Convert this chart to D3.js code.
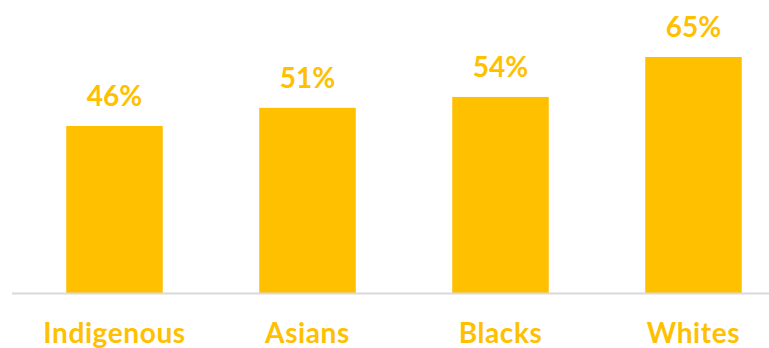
<!DOCTYPE html>
<html>
<head>
<meta charset="utf-8">
<script src="https://cdn.jsdelivr.net/npm/d3@7"></script>
<style>
  html, body { margin: 0; padding: 0; background: #fff; overflow: hidden; }
  svg { display: block; }
  text { font-family: Lato, "Open Sans", sans-serif; font-weight: 700; fill: #FFC000; }
</style>
</head>
<body>
<svg id="chart" width="769" height="348"></svg>
<script>
const categories = ["Indigenous", "Asians", "Blacks", "Whites"];
const values = [46, 51, 54, 65];

const svg = d3.select("#chart");
const gold = "#FFC000";

const x = d3.scaleBand()
  .domain(categories)
  .range([18, 790])
  .paddingInner(0.5)
  .paddingOuter(0.25);

const y = d3.scaleLinear()
  .domain([0, 65])
  .range([293, 57]);

const data = categories.map((c, i) => ({ cat: c, val: values[i] }));

// bars
svg.append("g").selectAll("rect")
  .data(data)
  .join("rect")
  .attr("x", d => x(d.cat))
  .attr("y", d => y(d.val))
  .attr("width", x.bandwidth())
  .attr("height", d => y(0) - y(d.val))
  .attr("fill", gold);

// baseline
svg.append("line")
  .attr("x1", 12).attr("x2", 769)
  .attr("y1", y(0) + 0.5).attr("y2", y(0) + 0.5)
  .attr("stroke", "#D9D9D9")
  .attr("stroke-width", 2);

// value labels
svg.append("g").selectAll("text")
  .data(data)
  .join("text")
  .attr("x", d => x(d.cat) + x.bandwidth() / 2)
  .attr("y", d => y(d.val) - 20)
  .attr("text-anchor", "middle")
  .attr("font-size", 28)
  .text(d => d.val + "%");

// category axis
const axis = d3.axisBottom(x).tickSize(0).tickPadding(0);
const gAxis = svg.append("g")
  .attr("transform", `translate(0, ${y(0)})`)
  .call(axis);
gAxis.select(".domain").remove();
gAxis.selectAll("text")
  .attr("dy", null)
  .attr("y", 50)
  .attr("font-size", 28)
  .attr("letter-spacing", 0.6)
  .style("font-family", "Lato, 'Open Sans', sans-serif")
  .style("font-weight", 700)
  .attr("fill", gold);
</script>
</body>
</html>
